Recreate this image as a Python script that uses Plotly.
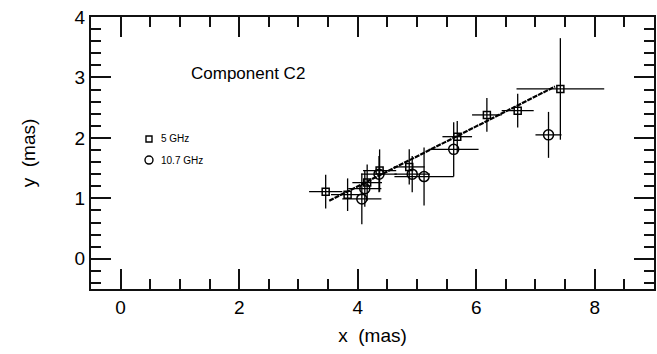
import plotly.graph_objects as go

# 5 GHz (squares)
x5 = [3.46, 3.83, 4.16, 4.37, 4.87, 5.68, 6.18, 6.70, 7.42]
y5 = [1.11, 1.06, 1.26, 1.46, 1.52, 2.02, 2.38, 2.45, 2.81]
ex5 = [0.28, 0.28, 0.25, 0.28, 0.26, 0.25, 0.25, 0.27, 0.74]
ey5 = [0.28, 0.27, 0.30, 0.35, 0.29, 0.26, 0.28, 0.28, 0.84]

# 10.7 GHz (circles)
x10 = [4.07, 4.12, 4.36, 4.92, 5.12, 5.62, 7.22]
y10 = [0.99, 1.16, 1.40, 1.40, 1.36, 1.81, 2.05]
ex10 = [0.33, 0.28, 0.30, 0.30, 0.50, 0.42, 0.22]
ey10 = [0.42, 0.30, 0.30, 0.30, 0.48, 0.45, 0.38]

# fitted line
xfit = [3.52, 7.33]
yfit = [0.96, 2.85]

XRANGE = [-0.5, 9]
YRANGE = [-0.5, 4]

FONT = "Liberation Sans, Arial, Helvetica, sans-serif"

fig = go.Figure()

fig.add_trace(go.Scatter(
    x=xfit, y=yfit, mode="lines",
    line=dict(color="black", width=2.2, dash="5px,1px"),
    showlegend=False, hoverinfo="skip"))

fig.add_trace(go.Scatter(
    x=x5, y=y5, mode="markers", name="5 GHz",
    marker=dict(symbol="square-open", size=7, color="black", line=dict(width=1.5)),
    error_x=dict(type="data", array=ex5, color="black", thickness=1.3, width=0),
    error_y=dict(type="data", array=ey5, color="black", thickness=1.3, width=0),
    showlegend=False))

fig.add_trace(go.Scatter(
    x=x10, y=y10, mode="markers", name="10.7 GHz",
    marker=dict(symbol="circle-open", size=10, color="black", line=dict(width=1.5)),
    error_x=dict(type="data", array=ex10, color="black", thickness=1.3, width=0),
    error_y=dict(type="data", array=ey10, color="black", thickness=1.3, width=0),
    showlegend=False))

fig.update_layout(
    xaxis=dict(range=XRANGE, dtick=2, tick0=0,
               showline=True, linecolor="#111111", linewidth=2, mirror="ticks",
               ticks="inside", tickcolor="#111111", tickwidth=2, ticklen=20,
               showgrid=False, zeroline=False,
               tickfont=dict(family=FONT, size=19, color="black"),
               minor=dict(ticks="inside", dtick=0.5, ticklen=10, tickwidth=2,
                          tickcolor="#111111"),
               title=dict(text="x  (mas)", font=dict(family=FONT, size=19, color="black"), standoff=12)),
    yaxis=dict(range=YRANGE, dtick=1, tick0=0,
               showline=True, linecolor="#111111", linewidth=2, mirror="ticks",
               ticks="inside", tickcolor="#111111", tickwidth=2, ticklen=20,
               showgrid=False, zeroline=False,
               tickfont=dict(family=FONT, size=19, color="black"),
               minor=dict(ticks="inside", dtick=0.2, ticklen=10, tickwidth=2,
                          tickcolor="#111111"),
               title=dict(text="y  (mas)", font=dict(family=FONT, size=19, color="black"), standoff=34)),
)

# legend drawn manually
fig.add_shape(type="rect", xref="paper", yref="paper", xsizemode="pixel", ysizemode="pixel",
              xanchor=0.103, yanchor=0.5515, x0=-3, x1=3, y0=-3, y1=3,
              line=dict(color="black", width=1.4))
fig.add_shape(type="circle", xref="paper", yref="paper", xsizemode="pixel", ysizemode="pixel",
              xanchor=0.103, yanchor=0.474, x0=-4, x1=4, y0=-4, y1=4,
              line=dict(color="black", width=1.4))
fig.add_annotation(x=0.12, y=0.5515, xref="paper", yref="paper", text="5 GHz",
                   showarrow=False, xanchor="left", yanchor="middle",
                   font=dict(family=FONT, size=10, color="black"))
fig.add_annotation(x=0.12, y=0.474, xref="paper", yref="paper", text="10.7 GHz",
                   showarrow=False, xanchor="left", yanchor="middle",
                   font=dict(family=FONT, size=10, color="black"))
fig.add_annotation(x=0.278, y=0.794, xref="paper", yref="paper", text="Component C2",
                   showarrow=False, xanchor="center", yanchor="middle",
                   font=dict(family=FONT, size=17, color="black"))

fig.update_layout(
    width=657, height=354,
    margin=dict(l=91, r=1, t=17, b=65),
    paper_bgcolor="white", plot_bgcolor="rgba(0,0,0,0)",
    font=dict(family=FONT, color="black"),
)

fig.write_html("out.html")
